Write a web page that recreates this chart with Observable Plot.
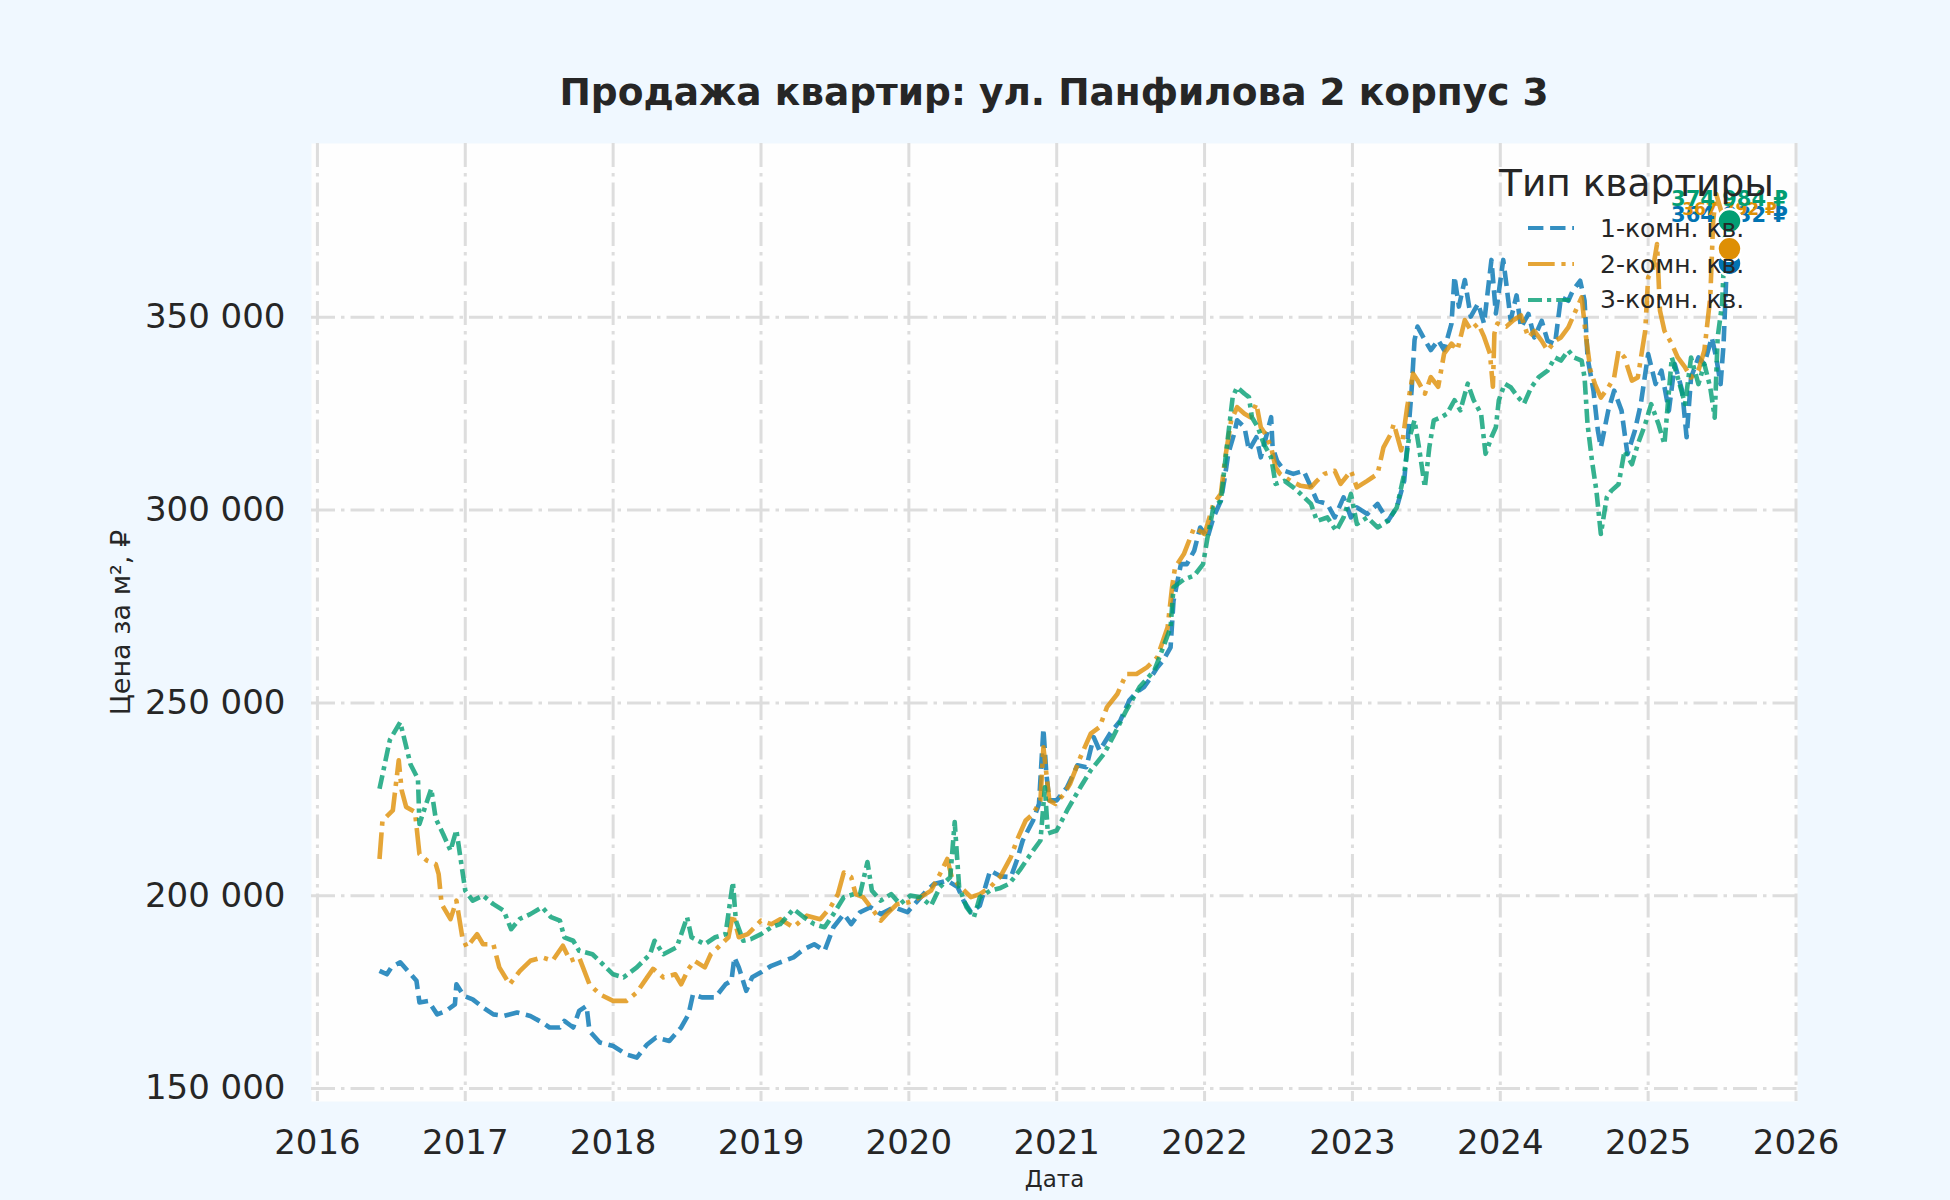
<!DOCTYPE html>
<html>
<head>
<meta charset="utf-8">
<script src="https://cdn.jsdelivr.net/npm/d3@7"></script>
<script src="https://cdn.jsdelivr.net/npm/@observablehq/plot@0.6"></script>
<style>
html, body { margin: 0; padding: 0; background: #f0f8ff; }
#page { position: relative; width: 1950px; height: 1200px; overflow: hidden; font-family: "DejaVu Sans", sans-serif; color: #262626; }
#title { position: absolute; left: 311px; width: 1486px; top: 74px; text-align: center; font-size: 37.5px; font-weight: bold; line-height: 37.5px; white-space: nowrap; color: #262626; }
#chart { position: absolute; left: 0; top: 130px; }
.lg { position: absolute; white-space: nowrap; pointer-events: none; }
#lgTitle { left: 1499px; top: 165px; font-size: 37.5px; line-height: 37.5px; }
.lgItem { left: 1600px; font-size: 25px; line-height: 25px; }
.lgLine { position: absolute; left: 1528px; width: 46px; height: 10px; overflow: visible; }
</style>
</head>
<body>
<div id="page">
  <div id="title">Продажа квартир: ул. Панфилова 2 корпус 3</div>
  <div id="chart"></div>
  <div id="legend"></div>
</div>
<script>
// ---- data (decimal year, price per m², ₽) ----
const room1 = [[2016.42,180500],[2016.47,179600],[2016.50,181400],[2016.56,182700],[2016.62,180100],[2016.67,177900],[2016.69,172300],[2016.75,172700],[2016.81,169200],[2016.87,170100],
[2016.93,171800],[2016.94,177000],[2016.99,174000],[2017.05,173100],[2017.12,171000],[2017.19,169200],[2017.26,168800],[2017.35,169700],[2017.44,168800],[2017.52,167100],
[2017.57,165800],[2017.64,165800],[2017.67,167500],[2017.73,165800],[2017.77,170100],[2017.82,171400],[2017.84,164900],[2017.91,161900],[2018.00,161000],[2018.09,158800],
[2018.16,158000],[2018.23,161400],[2018.29,163200],[2018.38,162300],[2018.46,165800],[2018.51,169200],[2018.54,174400],[2018.60,173600],[2018.69,173600],[2018.76,177000],
[2018.80,177900],[2018.82,184000],[2018.85,181400],[2018.90,175300],[2018.94,178800],[2019.00,180100],[2019.07,181800],[2019.13,182700],[2019.22,184000],[2019.29,186100],
[2019.36,187400],[2019.43,185700],[2019.49,191800],[2019.56,195200],[2019.61,192600],[2019.67,195700],[2019.74,197000],[2019.81,195200],[2019.90,197000],[2019.99,195700],
[2020.06,198700],[2020.12,201300],[2020.17,203000],[2020.26,203900],[2020.33,202200],[2020.37,198700],[2020.42,195700],[2020.48,197400],[2020.55,206500],[2020.62,205000],
[2020.69,204800],[2020.73,209100],[2020.77,214300],[2020.84,219500],[2020.88,223800],[2020.91,243300],[2020.93,231600],[2020.95,224700],[2021.00,224700],[2021.07,228100],
[2021.14,233800],[2021.20,233300],[2021.25,241100],[2021.29,237600],[2021.36,242000],[2021.43,245400],[2021.49,250600],[2021.54,252800],[2021.59,254100],[2021.63,256200],
[2021.68,259200],[2021.72,261000],[2021.77,264400],[2021.79,276500],[2021.84,286000],[2021.88,286000],[2021.93,289500],[2021.97,295500],[2022.02,292900],[2022.06,298100],
[2022.11,302400],[2022.14,309300],[2022.16,314600],[2022.20,319800],[2022.22,323300],[2022.27,321500],[2022.30,315500],[2022.35,318900],[2022.38,313700],[2022.41,318100],
[2022.45,324100],[2022.46,316300],[2022.49,312800],[2022.54,310200],[2022.60,309400],[2022.67,310200],[2022.71,306800],[2022.76,302400],[2022.83,301600],[2022.88,298100],
[2022.94,303300],[2022.99,298100],[2023.03,300700],[2023.10,299000],[2023.17,301600],[2023.24,297200],[2023.30,300700],[2023.35,307600],[2023.37,316300],[2023.40,331100],
[2023.42,344100],[2023.44,347600],[2023.49,344100],[2023.53,341500],[2023.58,344100],[2023.62,341500],[2023.67,348400],[2023.69,360600],[2023.72,352800],[2023.76,359700],
[2023.80,350200],[2023.85,353600],[2023.89,348400],[2023.94,364900],[2023.97,351000],[2024.02,364900],[2024.04,358900],[2024.07,349300],[2024.11,355700],[2024.14,347400],
[2024.19,350900],[2024.23,344800],[2024.28,349100],[2024.32,343900],[2024.37,343100],[2024.41,355200],[2024.46,354300],[2024.49,356900],[2024.54,359500],[2024.57,354300],
[2024.59,339600],[2024.63,331000],[2024.66,320600],[2024.68,316300],[2024.73,325800],[2024.77,331000],[2024.82,325800],[2024.86,314500],[2024.91,320600],[2024.95,327500],
[2025.00,340500],[2025.05,332700],[2025.09,336200],[2025.14,325800],[2025.18,337900],[2025.23,331000],[2025.26,318900],[2025.29,334400],[2025.34,339600],[2025.38,337900],
[2025.43,344800],[2025.46,339600],[2025.49,332700],[2025.51,343100],[2025.53,362100],[2025.55,364032]];

const room2 = [[2016.42,209500],[2016.44,219500],[2016.51,222100],[2016.55,235100],[2016.57,227300],[2016.60,223000],[2016.66,221700],[2016.69,210800],[2016.74,209100],[2016.80,208200],
[2016.82,205600],[2016.84,197800],[2016.90,193900],[2016.94,198700],[2016.98,189200],[2017.01,186600],[2017.08,190000],[2017.12,187400],[2017.19,187400],[2017.23,181400],
[2017.30,177000],[2017.37,180500],[2017.44,183100],[2017.52,184000],[2017.59,183100],[2017.66,187000],[2017.71,183100],[2017.77,184000],[2017.84,177000],[2017.91,174400],
[2018.00,172700],[2018.09,172700],[2018.16,174900],[2018.23,178800],[2018.27,181000],[2018.34,178800],[2018.42,179600],[2018.46,177000],[2018.51,181000],[2018.55,183100],
[2018.62,181400],[2018.66,184800],[2018.71,186600],[2018.78,189200],[2018.81,195200],[2018.85,189200],[2018.91,190000],[2019.00,193500],[2019.07,192600],[2019.13,193900],
[2019.22,191800],[2019.31,194800],[2019.40,193900],[2019.47,197000],[2019.52,200400],[2019.56,206000],[2019.61,204800],[2019.64,200400],[2019.69,199600],[2019.76,196100],
[2019.81,193500],[2019.85,195200],[2019.92,197800],[2020.00,198300],[2020.08,199600],[2020.15,201300],[2020.21,205600],[2020.26,209500],[2020.29,204800],[2020.35,202200],
[2020.42,199600],[2020.48,200400],[2020.55,202200],[2020.62,205000],[2020.69,210000],[2020.73,214300],[2020.79,219500],[2020.84,221200],[2020.89,224700],[2020.91,238500],
[2020.95,224700],[2020.99,223800],[2021.05,226400],[2021.09,229000],[2021.16,235900],[2021.23,242000],[2021.29,243700],[2021.34,248900],[2021.41,252300],[2021.47,257500],
[2021.54,257500],[2021.61,259200],[2021.68,261800],[2021.75,269600],[2021.78,280000],[2021.80,285100],[2021.86,288600],[2021.93,295500],[2022.00,293800],[2022.06,301600],
[2022.11,304200],[2022.14,313700],[2022.18,323300],[2022.22,326700],[2022.27,325000],[2022.31,324100],[2022.35,327600],[2022.38,321500],[2022.41,319800],[2022.45,316300],
[2022.48,311100],[2022.51,309400],[2022.58,307600],[2022.65,306300],[2022.72,305900],[2022.76,307600],[2022.81,309400],[2022.88,310200],[2022.92,306800],[2022.99,310200],
[2023.03,305900],[2023.10,307600],[2023.17,309400],[2023.21,316300],[2023.26,319800],[2023.28,322400],[2023.33,315500],[2023.37,326700],[2023.41,335400],[2023.44,333700],
[2023.49,330200],[2023.53,334500],[2023.58,332000],[2023.62,340600],[2023.67,343200],[2023.71,341500],[2023.76,349300],[2023.80,346700],[2023.85,348400],[2023.89,345000],
[2023.93,340600],[2023.95,332000],[2023.96,345800],[2023.98,348400],[2024.04,347600],[2024.09,349300],[2024.14,350500],[2024.19,344800],[2024.23,346500],[2024.28,343900],
[2024.32,341400],[2024.37,343900],[2024.41,344800],[2024.46,347400],[2024.50,350900],[2024.55,355200],[2024.58,344800],[2024.61,336200],[2024.64,332700],[2024.68,329200],
[2024.73,331800],[2024.77,334400],[2024.80,341400],[2024.84,339600],[2024.89,333600],[2024.93,334400],[2024.98,346500],[2025.00,360400],[2025.03,362100],[2025.06,369000],
[2025.08,351700],[2025.11,346500],[2025.16,343100],[2025.20,339600],[2025.25,337000],[2025.29,334400],[2025.34,336200],[2025.38,341400],[2025.42,355200],[2025.44,375100],
[2025.46,382000],[2025.50,376800],[2025.53,369000],[2025.55,367792]];

const room3 = [[2016.42,227700],[2016.49,240400],[2016.56,245000],[2016.63,234000],[2016.68,230300],[2016.69,218600],[2016.77,227700],[2016.80,220000],[2016.85,216000],[2016.90,211700],
[2016.94,217000],[2016.98,206500],[2017.00,201300],[2017.05,198700],[2017.12,200000],[2017.19,197800],[2017.26,196100],[2017.31,191300],[2017.37,194000],[2017.44,195200],
[2017.52,197000],[2017.58,194400],[2017.64,193500],[2017.67,189200],[2017.73,188300],[2017.77,185700],[2017.86,184800],[2017.93,182200],[2018.00,179600],[2018.07,178800],
[2018.16,181400],[2018.25,184800],[2018.28,188300],[2018.34,184800],[2018.43,186600],[2018.50,194400],[2018.53,189200],[2018.62,187400],[2018.69,189200],[2018.76,190000],
[2018.81,203500],[2018.83,193500],[2018.88,188300],[2018.93,188700],[2019.00,190000],[2019.07,191800],[2019.13,192600],[2019.22,196500],[2019.29,194400],[2019.36,192600],
[2019.43,191800],[2019.49,195200],[2019.56,199600],[2019.63,200400],[2019.67,200400],[2019.72,208700],[2019.75,201300],[2019.81,198700],[2019.88,200400],[2019.94,197800],
[2020.01,200000],[2020.08,199600],[2020.15,197400],[2020.21,202200],[2020.28,204800],[2020.31,219100],[2020.34,202200],[2020.39,197000],[2020.44,194400],[2020.48,199600],
[2020.55,201300],[2020.62,202000],[2020.68,203100],[2020.75,206600],[2020.84,211700],[2020.89,214300],[2020.92,228100],[2020.94,216100],[2021.00,216900],[2021.07,222100],
[2021.16,228100],[2021.23,232500],[2021.32,236800],[2021.38,241100],[2021.47,248000],[2021.56,254100],[2021.66,258400],[2021.72,264400],[2021.77,269600],[2021.79,280000],
[2021.86,282000],[2021.93,283000],[2021.99,286000],[2022.02,292900],[2022.06,300700],[2022.11,302400],[2022.15,316300],[2022.19,329300],[2022.22,331900],[2022.27,330200],
[2022.30,329300],[2022.32,324100],[2022.36,321500],[2022.40,317200],[2022.45,313700],[2022.48,306800],[2022.54,307600],[2022.60,305900],[2022.65,304200],[2022.72,301600],
[2022.76,297200],[2022.83,298100],[2022.89,294600],[2022.94,298100],[2022.99,304200],[2023.03,296400],[2023.10,298100],[2023.17,295500],[2023.24,297200],[2023.30,300700],
[2023.35,309400],[2023.38,318100],[2023.42,323300],[2023.45,316300],[2023.49,305900],[2023.52,316300],[2023.55,323300],[2023.60,324100],[2023.64,325000],[2023.69,328500],
[2023.73,325900],[2023.78,332800],[2023.82,328500],[2023.87,325000],[2023.90,314600],[2023.94,318900],[2023.97,321500],[2023.99,328500],[2024.03,332800],[2024.07,331900],
[2024.12,329300],[2024.16,327600],[2024.21,331900],[2024.26,334500],[2024.32,336200],[2024.37,339600],[2024.41,338800],[2024.46,341400],[2024.50,339600],[2024.55,338800],
[2024.57,334400],[2024.59,322300],[2024.62,312800],[2024.65,305000],[2024.68,293800],[2024.72,303300],[2024.75,305000],[2024.80,306700],[2024.84,315400],[2024.89,311900],
[2024.93,317100],[2024.98,322300],[2025.02,327500],[2025.07,322300],[2025.11,317100],[2025.16,339600],[2025.20,334400],[2025.25,327500],[2025.29,339600],[2025.34,332700],
[2025.38,337900],[2025.42,331800],[2025.45,324000],[2025.47,344800],[2025.50,353500],[2025.52,370800],[2025.55,374984]];

const seriesNames = ["1-комн. кв.", "2-комн. кв.", "3-комн. кв."];
const xTicks = [2016, 2017, 2018, 2019, 2020, 2021, 2022, 2023, 2024, 2025, 2026];
const yTicks = [150000, 200000, 250000, 300000, 350000];
const legendTitle = "Тип квартиры";
const yLabel = "Цена за м², ₽";
const xLabel = "Дата";

// ---- styles ----
const colors = ["#0173B2", "#DE8F05", "#029E73"];
const dashes = ["15.4,6.7", "26.7,6.7,4.2,6.7", "14,5,4.2,5"];
const labelStyle = [
  {dy: -48, fontSize: 21},
  {dy: -39, fontSize: 17},
  {dy: -22, fontSize: 21}
];

const fmtNum = v => d3.format(",")(v).replace(/,/g, " ");
const rows = [room1, room2, room3].map((s, k) => s.map(([x, y]) => ({x, y, k})));
const lasts = rows.map(r => r[r.length - 1]);

const marks = [
  Plot.frame({fill: "#fefefe", stroke: null}),
  Plot.gridX(xTicks, {stroke: "#dddddd", strokeOpacity: 1, strokeWidth: 3, strokeDasharray: "24,6,3.5,6"}),
  Plot.gridY(yTicks, {stroke: "#dddddd", strokeOpacity: 1, strokeWidth: 3, strokeDasharray: "24,6,3.5,6"}),
  Plot.axisX(xTicks, {tickSize: 0, tickPadding: 28, fontSize: 34, fill: "#262626", tickFormat: d => String(d), label: null}),
  Plot.axisY(yTicks, {tickSize: 0, tickPadding: 26, fontSize: 34, fill: "#262626", tickFormat: fmtNum, label: null}),
  Plot.text([yLabel], {frameAnchor: "left", textAnchor: "middle", rotate: -90, dx: -190, fontSize: 27, fill: "#262626", text: d => d}),
  Plot.text([xLabel], {frameAnchor: "bottom", textAnchor: "middle", dy: 85, fontSize: 23, fill: "#262626", text: d => d})
];
rows.forEach((r, k) => {
  marks.push(Plot.line(r, {x: "x", y: "y", stroke: colors[k], strokeOpacity: 0.8, strokeWidth: 4.6,
    strokeDasharray: dashes[k], strokeLinecap: "butt", strokeLinejoin: "round"}));
});
lasts.forEach((d, k) => {
  marks.push(Plot.text([d], {x: "x", y: "y", text: v => fmtNum(v.y) + " ₽", dy: labelStyle[k].dy,
    fontSize: labelStyle[k].fontSize, fontWeight: "bold", fill: colors[k], textAnchor: "middle"}));
});
lasts.forEach((d, k) => {
  marks.push(Plot.dot([d], {x: "x", y: "y", r: 12, fill: colors[k], stroke: "white", strokeWidth: 2.5}));
});

const chart = Plot.plot({
  width: 1950,
  height: 1070,
  marginTop: 13,
  marginBottom: 99,
  marginLeft: 311,
  marginRight: 153,
  style: {background: "transparent", fontFamily: "DejaVu Sans", overflow: "visible"},
  x: {type: "linear", domain: [2015.96, 2026.01]},
  y: {type: "linear", domain: [146600, 395100]},
  marks
});
document.getElementById("chart").appendChild(chart);

// ---- legend ----
const lg = document.getElementById("legend");
const t = document.createElement("div");
t.className = "lg"; t.id = "lgTitle"; t.textContent = legendTitle;
lg.appendChild(t);
const tops = [216, 252, 287];
const lineY = [228, 264, 300];
seriesNames.forEach((name, k) => {
  const it = document.createElement("div");
  it.className = "lg lgItem";
  it.style.top = tops[k] + "px";
  it.textContent = name;
  lg.appendChild(it);
  const s = document.createElementNS("http://www.w3.org/2000/svg", "svg");
  s.setAttribute("class", "lgLine");
  s.setAttribute("width", "46"); s.setAttribute("height", "10");
  s.style.top = (lineY[k] - 5) + "px";
  const ln = document.createElementNS("http://www.w3.org/2000/svg", "line");
  ln.setAttribute("x1", "0"); ln.setAttribute("x2", "46");
  ln.setAttribute("y1", "5"); ln.setAttribute("y2", "5");
  ln.setAttribute("stroke", colors[k]); ln.setAttribute("stroke-opacity", "0.8");
  ln.setAttribute("stroke-width", "4"); ln.setAttribute("stroke-dasharray", dashes[k]);
  s.appendChild(ln);
  lg.appendChild(s);
});
</script>
</body>
</html>
